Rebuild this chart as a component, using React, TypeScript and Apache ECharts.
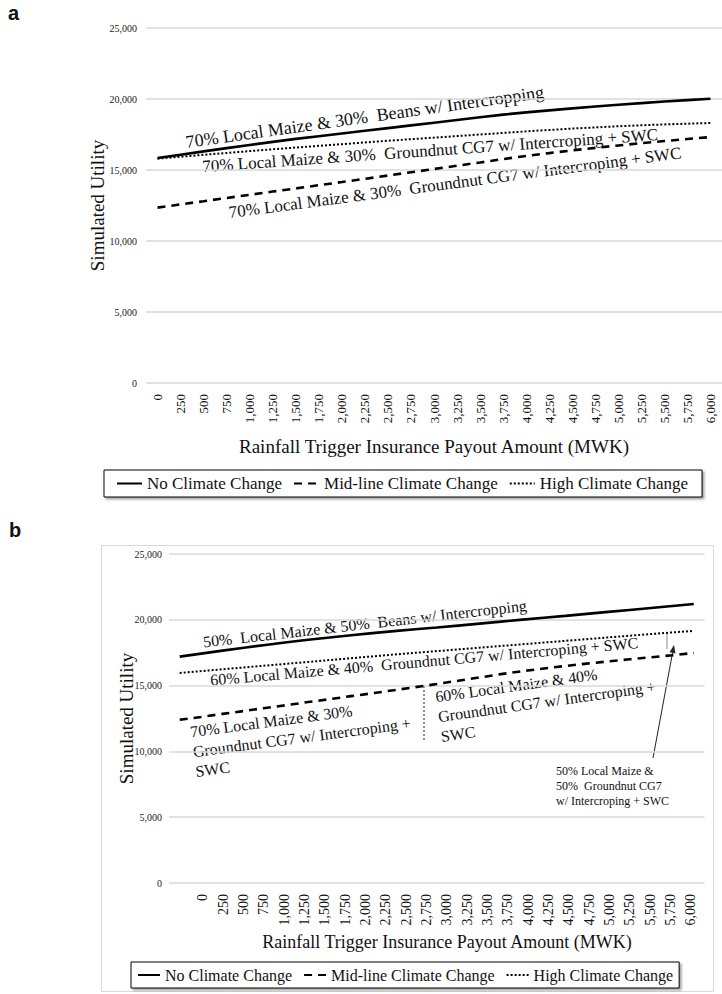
import React, { useEffect, useRef } from "react";
import * as echarts from "echarts";

// X categories: rainfall trigger insurance payout amount (MWK)
const payoutLabels = [
  "0", "250", "500", "750", "1,000", "1,250", "1,500", "1,750", "2,000", "2,250",
  "2,500", "2,750", "3,000", "3,250", "3,500", "3,750", "4,000", "4,250", "4,500",
  "4,750", "5,000", "5,250", "5,500", "5,750", "6,000",
];

// Panel a
const aNoChange = [
  15850, 16080, 16310, 16540, 16760, 16980, 17190, 17380, 17570, 17760, 17950, 18140,
  18330, 18520, 18710, 18900, 19060, 19200, 19340, 19470, 19590, 19710, 19820, 19920, 20020,
];
const aMidline = [
  12350, 12580, 12800, 13030, 13250, 13480, 13700, 13930, 14150, 14380, 14610, 14840,
  15070, 15300, 15530, 15770, 15990, 16190, 16380, 16560, 16730, 16890, 17040, 17180, 17320,
];
const aHigh = [
  15800, 15935, 16070, 16200, 16330, 16460, 16580, 16700, 16820, 16940, 17060, 17170,
  17280, 17390, 17500, 17610, 17720, 17820, 17920, 18000, 18080, 18150, 18210, 18260, 18310,
];

// Panel b
const bNoChange = [
  17200, 17430, 17660, 17880, 18090, 18290, 18480, 18660, 18830, 18990, 19140, 19280,
  19410, 19560, 19710, 19860, 20010, 20160, 20300, 20450, 20600, 20750, 20900, 21050, 21200,
];
const bMidline = [
  12400, 12620, 12850, 13070, 13300, 13520, 13750, 13970, 14200, 14420, 14650, 14880,
  15120, 15370, 15620, 15870, 16100, 16300, 16490, 16670, 16840, 17000, 17150, 17310, 17480,
];
const bHigh = [
  15960, 16100, 16240, 16380, 16520, 16660, 16800, 16940, 17080, 17220, 17360, 17490,
  17620, 17750, 17880, 18010, 18140, 18270, 18400, 18530, 18660, 18790, 18920, 19040, 19160,
];

const seriesNames = ["No Climate Change", "Mid-line Climate Change", "High Climate Change"];
const yTicks = [0, 5000, 10000, 15000, 20000, 25000];

const SERIF = "'Liberation Serif', 'Times New Roman', serif";
const rad = (d: number) => (d * Math.PI) / 180;

const lineStyles = [
  { type: "solid" as any, width: 2.6 },
  { type: [8, 6] as any, width: 2.6 },
  { type: [2, 2] as any, width: 2 },
];

const X_TITLE = "Rainfall Trigger Insurance Payout Amount (MWK)";

export default function App() {
  const ref = useRef<HTMLDivElement>(null);

  useEffect(() => {
    if (!ref.current) return;
    const chart = echarts.init(ref.current, undefined, { renderer: "svg" });

    const mkX = (gridIndex: number, showLabels: boolean, fontSize: number, nameSize: number, nameGap: number) => ({
      type: "category",
      gridIndex,
      data: payoutLabels,
      boundaryGap: true,
      axisLine: { show: false },
      axisTick: { show: false },
      axisLabel: {
        show: showLabels,
        interval: 0,
        rotate: 90,
        margin: 11,
        fontFamily: SERIF,
        fontSize,
        color: "#111",
      },
      name: showLabels ? X_TITLE : "",
      nameLocation: "middle",
      nameGap,
      nameMoveOverlap: false,
      nameTextStyle: { fontFamily: SERIF, fontSize: nameSize, color: "#111" },
    });

    const mkY = (gridIndex: number, nameGap: number, margin: number) => ({
      type: "value",
      gridIndex,
      min: yTicks[0],
      max: yTicks[yTicks.length - 1],
      interval: yTicks[1] - yTicks[0],
      axisLine: { show: false },
      axisTick: { show: false },
      splitLine: { lineStyle: { color: "#d9d9d9", width: 1.5 } },
      axisLabel: {
        margin,
        fontFamily: SERIF,
        fontSize: 10,
        color: "#222",
        formatter: (v: number) => v.toLocaleString("en-US"),
      },
      name: "Simulated Utility",
      nameLocation: "middle",
      nameGap,
      nameMoveOverlap: false,
      nameTextStyle: { fontFamily: SERIF, fontSize: 19, color: "#111" },
    });

    const mkSeries = (idx: number, data: number[], k: number) => ({
      type: "line",
      name: seriesNames[k],
      xAxisIndex: idx,
      yAxisIndex: idx,
      data,
      symbol: "none",
      smooth: false,
      lineStyle: { color: "#000", ...lineStyles[k] },
      itemStyle: { color: "#000" },
    });

    const legendCommon = {
      orient: "horizontal",
      data: seriesNames,
      backgroundColor: "#fff",
      borderColor: "#000",
      borderWidth: 1,
      shadowColor: "rgba(0,0,0,0.35)",
      shadowOffsetX: 2,
      shadowOffsetY: 2,
      shadowBlur: 2,
      selectedMode: false,
      itemHeight: 14,
      itemStyle: { opacity: 0 },
    };

    const txt = (text: string, x: number, y: number, deg: number, fontSize: number, extra: any = {}) => ({
      type: "text",
      x,
      y,
      rotation: rad(deg),
      silent: true,
      style: {
        text,
        fontFamily: SERIF,
        fontSize,
        fill: "#111",
        align: "left",
        verticalAlign: "bottom",
        ...extra,
      },
    });

    // arrow geometry (annotation)
    const tail = [653, 758];
    const tip = [674, 645];
    const dx = tip[0] - tail[0];
    const dy = tip[1] - tail[1];
    const len = Math.hypot(dx, dy);
    const ux = dx / len;
    const uy = dy / len;
    const bx = tip[0] - 8 * ux;
    const by = tip[1] - 8 * uy;
    const nx = -uy;
    const ny = ux;

    chart.setOption({
      animation: false,
      backgroundColor: "#fff",
      grid: [
        { left: 146, top: 28, width: 581, height: 355 },
        { left: 169, top: 554, width: 535.5, height: 329 },
        // label band of panel b (its tick labels sit slightly offset from the plot)
        { left: 192.8, top: 554, width: 508.3, height: 329 },
      ],
      xAxis: [mkX(0, true, 13, 19, 54), mkX(1, false, 14, 18, 50), mkX(2, true, 14, 18, 50)],
      yAxis: [
        mkY(0, 39, 9),
        mkY(1, 33, 7),
        { type: "value", gridIndex: 2, show: false, min: 0, max: 1 },
      ],
      legend: [
        {
          ...legendCommon,
          left: 104,
          top: 470,
          padding: [5, 14, 5, 12],
          itemWidth: 25,
          itemGap: 11,
          textStyle: { fontFamily: SERIF, fontSize: 17, color: "#111" },
        },
        {
          ...legendCommon,
          left: 131,
          top: 962,
          padding: [5, 6, 5, 6],
          itemWidth: 22,
          itemGap: 11,
          textStyle: { fontFamily: SERIF, fontSize: 16, color: "#111" },
        },
      ],
      series: [
        mkSeries(0, aNoChange, 0),
        mkSeries(0, aMidline, 1),
        mkSeries(0, aHigh, 2),
        mkSeries(1, bNoChange, 0),
        mkSeries(1, bMidline, 1),
        mkSeries(1, bHigh, 2),
      ],
      graphic: [
        // panel b frame
        {
          type: "rect",
          z: -10,
          silent: true,
          shape: { x: 101.5, y: 545.5, width: 612, height: 446 },
          style: { fill: "none", stroke: "#d9d9d9", lineWidth: 1 },
        },
        // panel letters
        {
          type: "text",
          x: 8,
          y: 3,
          style: { text: "a", fontFamily: "'Liberation Sans', Arial, sans-serif", fontWeight: "bold", fontSize: 20, fill: "#111" },
        },
        {
          type: "text",
          x: 9,
          y: 520,
          style: { text: "b", fontFamily: "'Liberation Sans', Arial, sans-serif", fontWeight: "bold", fontSize: 20, fill: "#111" },
        },
        // panel a annotations
        txt("70% Local Maize & 30%  Beans w/ Intercropping", 187, 151, 8, 18),
        txt("70% Local Maize & 30%  Groundnut CG7 w/ Intercroping + SWC", 203, 175, 4, 17),
        txt("70% Local Maize & 30%  Groundnut CG7 w/ Intercroping + SWC", 230, 221, 7.5, 17),
        // panel b annotations
        txt("50%  Local Maize & 50%  Beans w/ Intercropping", 204, 650, 6.5, 16),
        txt("60% Local Maize & 40%  Groundnut CG7 w/ Intercroping + SWC", 211, 688, 5, 16),
        txt("70% Local Maize & 30%\nGroundnut CG7 w/ Intercroping +\nSWC", 189, 722, 7.5, 16, {
          verticalAlign: "top",
          lineHeight: 20,
        }),
        txt("60% Local Maize & 40%\nGroundnut CG7 w/ Intercroping +\nSWC", 434, 687, 8, 16, {
          verticalAlign: "top",
          lineHeight: 20,
        }),
        txt("50% Local Maize &\n50%  Groundnut CG7\nw/ Intercroping + SWC", 556, 763, 0, 12, {
          verticalAlign: "top",
          lineHeight: 15,
        }),
        // dotted divider in panel b
        {
          type: "line",
          silent: true,
          shape: { x1: 424, y1: 686, x2: 424, y2: 742 },
          style: { stroke: "#222", lineWidth: 1, lineDash: [2, 2] },
        },
        // small gap marker
        {
          type: "line",
          silent: true,
          shape: { x1: 667, y1: 633, x2: 667, y2: 649 },
          style: { stroke: "#888", lineWidth: 1 },
        },
        // arrow
        {
          type: "line",
          silent: true,
          shape: { x1: tail[0], y1: tail[1], x2: bx, y2: by },
          style: { stroke: "#222", lineWidth: 1 },
        },
        {
          type: "polygon",
          silent: true,
          shape: {
            points: [
              [tip[0], tip[1]],
              [bx + 3 * nx, by + 3 * ny],
              [bx - 3 * nx, by - 3 * ny],
            ],
          },
          style: { fill: "#222" },
        },
      ],
    });

    return () => chart.dispose();
  }, []);

  return (
    <div
      ref={ref}
      style={{ position: "absolute", left: 0, top: 0, width: 722, height: 994, overflow: "hidden" }}
    />
  );
}
